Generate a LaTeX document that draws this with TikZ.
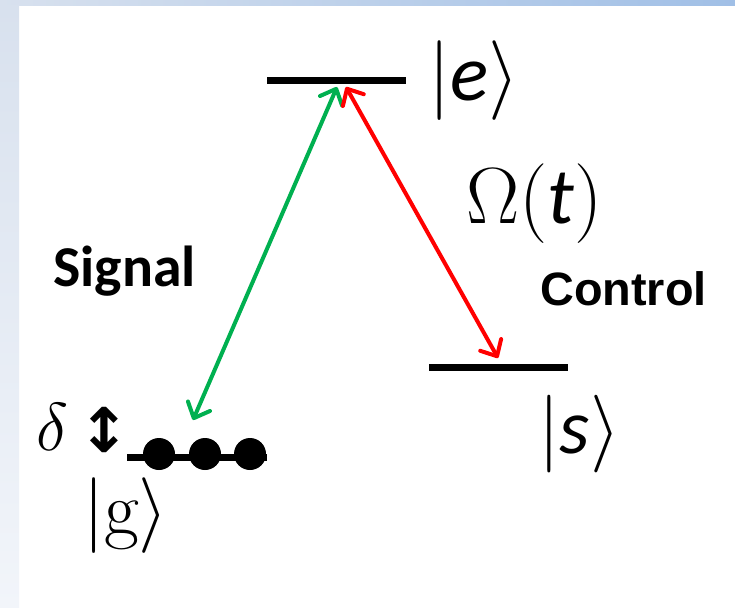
\RequirePackage{fix-cm}
\documentclass[tikz,border=0pt]{standalone}
\usepackage{fontspec}
\newfontfamily\kf{Carlito}
\newfontfamily\ctlf{Liberation Sans}
\newfontfamily\djf{DejaVu Sans}
\usetikzlibrary{arrows.meta}
\definecolor{sigGreen}{HTML}{00B050}
\definecolor{ctlRed}{HTML}{FF0000}
\definecolor{bgTopL}{HTML}{D8E1EE}
\definecolor{bgTopR}{HTML}{A0BFE6}
\definecolor{bgLeftB}{HTML}{F2F5FA}
\tikzset{
  levelbar/.style={fill=black, draw=none, inner sep=0pt, minimum height=7bp},
  atom/.style={circle, fill=black, draw=none, inner sep=0pt, minimum size=32bp},
  trans/.style={line width=4bp, line cap=round,
    {Straight Barb[length=13bp,width=24bp,line cap=round,line join=round]}-{Straight Barb[length=13bp,width=24bp,line cap=round,line join=round]}},
  ketlbl/.style={inner sep=0pt, anchor=base west},
  boldlbl/.style={inner sep=0pt, anchor=base west}
}
\begin{document}
\begin{tikzpicture}[x=1bp,y=-1bp]
\useasboundingbox (0,0) rectangle (735,608);
\fill[white] (0,0) rectangle (735,608);
\shade[left color=bgTopL, right color=bgTopR] (0,0) rectangle (735,6);
\shade[top color=bgTopL, bottom color=bgLeftB] (0,6) rectangle (19,608);
% levels
\node[levelbar, minimum width=139bp] (E) at (336.5,81) {};
\node[levelbar, minimum width=139bp] (S) at (498.5,367) {};
\node[levelbar, minimum width=140bp] (G) at (197,457) {};
\node[atom] (a1) at (159,454) {};
\node[atom] (a2) at (205,454) {};
\node[atom] (a3) at (250,454) {};
% arrow ends
\coordinate (eG) at (337,87);
\coordinate (eR) at (346,87);
\coordinate (gT) at (193,420);
\coordinate (sT) at (498,358);
\draw[trans, sigGreen] (eG) -- (gT);
\draw[trans, ctlRed] (eR) -- (sT);
% labels
\node[ketlbl, font=\fontsize{80}{80}\selectfont] (eket) at (428,101) {$|$\kf\itshape e\/$\rangle$};
\node[ketlbl, font=\fontsize{78}{78}\selectfont] (sket) at (538,453) {$|$\kf\itshape s\/$\rangle$};
\node[ketlbl, font=\fontsize{76}{76}\selectfont] (gket) at (83,534) {$|\mathrm{g}\rangle$};
\node[ketlbl, font=\fontsize{80}{80}\selectfont] (omega) at (466,223) {$\Omega($\kf\itshape t\/$)$};
\node[ketlbl, font=\fontsize{68}{68}\selectfont] (delta) at (36,450) {$\delta$};
\node[inner sep=0pt, font=\djf\bfseries\fontsize{62}{62}\selectfont] (updown) at (104,430) {↕};
\node[boldlbl, font=\kf\bfseries\fontsize{58}{58}\selectfont] (signal) at (53,286) {Signal};
\node[boldlbl, font=\ctlf\bfseries\fontsize{47}{47}\selectfont] (control) at (540,305) {Control};
\end{tikzpicture}
\end{document}
